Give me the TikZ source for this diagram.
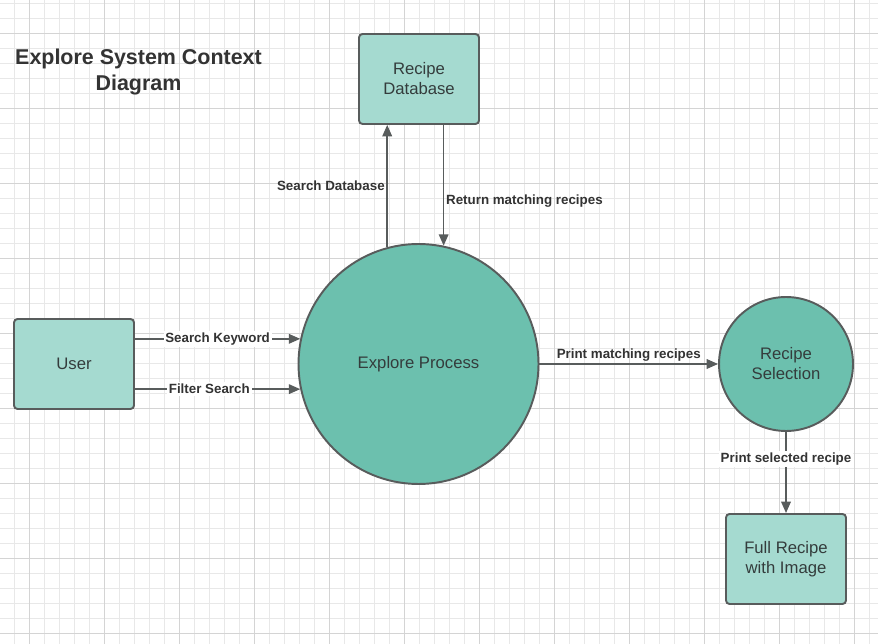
\documentclass[tikz,border=0pt]{standalone}
\usepackage{fontspec}
\setmainfont{Liberation Sans}
\usetikzlibrary{arrows.meta}
\definecolor{boxfill}{RGB}{165,218,208}
\definecolor{procfill}{RGB}{108,192,174}
\definecolor{edge}{RGB}{88,92,92}
\definecolor{ink}{RGB}{52,60,60}
\definecolor{gridminor}{RGB}{232,232,232}
\definecolor{gridmajor}{RGB}{212,212,212}
\begin{document}
\begin{tikzpicture}[x=0.02cm,y=-0.02cm,
    entity/.style={draw=edge,line width=1.1pt,fill=boxfill,rounded corners=2pt,
        minimum width=2.4cm,minimum height=1.8cm,align=center,text=ink,
        font=\fontsize{9.5}{11.4}\selectfont},
    process/.style={circle,draw=edge,line width=1.1pt,fill=procfill,align=center,
        text=ink,inner sep=0pt,font=\fontsize{9.5}{11.4}\selectfont},
    flow/.style={draw=edge,line width=0.85pt,-{Triangle[length=6.5pt,width=5.5pt]}},
    lbl/.style={font=\bfseries\fontsize{7.6}{9}\selectfont,text={black!80},inner sep=1pt}]
\useasboundingbox (0,0) rectangle (878,644);
\fill[white] (0,0) rectangle (878,644);
\foreach \x in {14,29,...,878} \draw[gridminor,line width=0.4pt] (\x,0) -- (\x,644);
\foreach \y in {3,18,...,644} \draw[gridminor,line width=0.4pt] (0,\y) -- (878,\y);
\foreach \x in {29,104,...,878} \draw[gridmajor,line width=0.5pt] (\x,0) -- (\x,644);
\foreach \y in {33,108,...,644} \draw[gridmajor,line width=0.5pt] (0,\y) -- (878,\y);

\node[align=center,font=\bfseries\fontsize{12.2}{14.7}\selectfont,text={black!80}] (title) at (138.5,72)
    {Explore System Context\\Diagram};

\node[entity] (db) at (419,79) {Recipe\\Database};
\node[entity] (user) at (74,364) {User};
\node[entity] (full) at (786,559) {Full Recipe\\with Image};
\node[process,minimum size=4.8cm] (proc) at (418.5,364) {Explore Process};
\node[process,minimum size=2.68cm] (sel) at (786,364) {Recipe\\Selection};

\draw[flow] (proc.105) -- (proc.105 |- db.south) node[lbl,left,midway] {Search Database};
\draw[flow] (db.south -| proc.78) -- (proc.78) node[lbl,right,pos=0.63] {Return matching recipes};
\draw[flow] (proc.168 -| user.east) -- (proc.168) node[lbl,fill=white,midway] {Search Keyword};
\draw[flow] (proc.192 -| user.east) -- (proc.192) node[lbl,fill=white,pos=0.45] {Filter Search};
\draw[flow] (proc.east) -- (sel.west) node[lbl,above,midway] {Print matching recipes};
\draw[flow] (sel.south) -- (full.north) node[lbl,fill=white,pos=0.33] {Print selected recipe};
\end{tikzpicture}
\end{document}
